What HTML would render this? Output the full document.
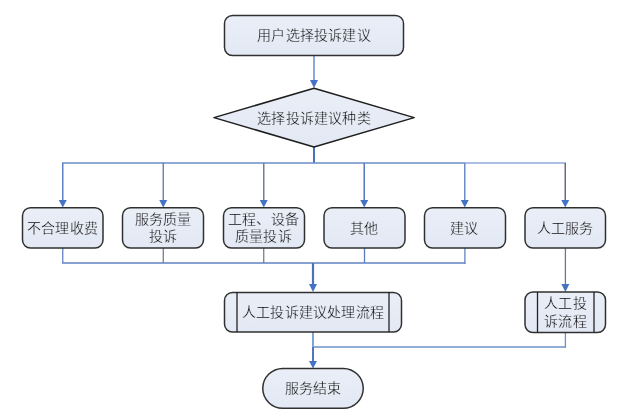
<!DOCTYPE html>
<html lang="zh-CN">
<head>
<meta charset="utf-8">
<style>
html,body{margin:0;padding:0;background:#fff;}
body{width:622px;height:415px;overflow:hidden;position:relative;}
svg{position:absolute;left:0;top:0;}
text{font-family:"Liberation Serif",serif;font-size:14px;letter-spacing:0.2px;fill:#000;stroke:#e6ebf5;stroke-width:0.3px;}
.wrap{position:absolute;left:0;top:0;width:622px;height:415px;will-change:transform;}
</style>
</head>
<body>
<div class="wrap">
<svg width="622" height="415" viewBox="0 0 622 415">
  <defs>
    <linearGradient id="g" x1="0" y1="0" x2="0" y2="1">
      <stop offset="0" stop-color="#e9eef7"/>
      <stop offset="1" stop-color="#e3e9f4"/>
    </linearGradient>
  </defs>

  <!-- connectors -->
  <g fill="none" stroke-linecap="butt">
    <line x1="314" y1="55" x2="314" y2="81" stroke="#88aadc" stroke-width="2"/>
    <line x1="314" y1="147" x2="314" y2="163" stroke="#4a74b8" stroke-width="2"/>
    <line x1="62" y1="163" x2="465" y2="163" stroke="#6a8cc6" stroke-width="1.7"/>
    <line x1="465" y1="163" x2="566" y2="163" stroke="#8eaad8" stroke-width="1.7"/>
    <line x1="62.75" y1="163" x2="62.75" y2="201" stroke="#5f82c2" stroke-width="1.5"/>
    <line x1="163.25" y1="163" x2="163.25" y2="201" stroke="#5a78b6" stroke-width="1.3"/>
    <line x1="263.75" y1="163" x2="263.75" y2="201" stroke="#737d98" stroke-width="1.5"/>
    <line x1="364.25" y1="163" x2="364.25" y2="201" stroke="#5577bb" stroke-width="1.5"/>
    <line x1="464.75" y1="163" x2="464.75" y2="201" stroke="#6a8ac8" stroke-width="1.5"/>
    <line x1="565.25" y1="163" x2="565.25" y2="201" stroke="#666c80" stroke-width="1.5"/>
    <line x1="62.75" y1="248" x2="62.75" y2="263" stroke="#6283c2" stroke-width="1.3"/>
    <line x1="163.25" y1="248" x2="163.25" y2="263" stroke="#6c7488" stroke-width="1.2"/>
    <line x1="263.75" y1="248" x2="263.75" y2="263" stroke="#6c7488" stroke-width="1.2"/>
    <line x1="364.5" y1="248" x2="364.5" y2="263" stroke="#5a7cc0" stroke-width="1.3"/>
    <line x1="464.9" y1="248" x2="464.9" y2="263.7" stroke="#6283c2" stroke-width="1.3"/>
    <line x1="62" y1="263" x2="465.5" y2="263" stroke="#5f82c2" stroke-width="1.5"/>
    <line x1="313" y1="263" x2="313" y2="285" stroke="#4a74b8" stroke-width="2.2"/>
    <line x1="565.4" y1="248" x2="565.4" y2="285" stroke="#6b7590" stroke-width="1.3"/>
    <line x1="565.4" y1="332" x2="565.4" y2="347.5" stroke="#6e90c8" stroke-width="1.3"/>
    <line x1="313" y1="347" x2="566" y2="347" stroke="#6e90c8" stroke-width="1.3"/>
    <line x1="313" y1="332" x2="313" y2="347" stroke="#7ea3d6" stroke-width="2"/>
    <line x1="313" y1="347" x2="313" y2="362" stroke="#4f78bc" stroke-width="2"/>
  </g>

  <!-- arrowheads -->
  <g fill="#4472c4">
    <polygon points="310,80 318,80 314,88"/>
    <polygon points="58.75,200 66.75,200 62.75,207.5"/>
    <polygon points="159.25,200 167.25,200 163.25,207.5"/>
    <polygon points="259.75,200 267.75,200 263.75,207.5"/>
    <polygon points="360.25,200 368.25,200 364.25,207.5"/>
    <polygon points="460.75,200 468.75,200 464.75,207.5"/>
    <polygon points="561.25,200 569.25,200 565.25,207.5"/>
    <polygon points="309,284 317,284 313,292"/>
    <polygon points="561.4,284 569.4,284 565.4,292"/>
    <polygon points="309,361 317,361 313,368.5"/>
  </g>

  <!-- shapes -->
  <g fill="url(#g)" stroke="#303030" stroke-width="1.5">
    <rect x="224.5" y="15.5" width="179" height="40" rx="8" ry="8"/>
    <polygon points="314,88.3 414.2,117.6 314,147 214,117.6" stroke-width="1.5" stroke="#1e1e1e" stroke-linejoin="round"/>
    <rect x="22.5" y="207.75" width="80.5" height="40.25" rx="8" ry="8"/>
    <rect x="122.5" y="207.75" width="81" height="40.25" rx="8" ry="8"/>
    <rect x="223.5" y="207.75" width="81" height="40.25" rx="8" ry="8"/>
    <rect x="324" y="207.75" width="81" height="40.25" rx="8" ry="8"/>
    <rect x="424.5" y="207.75" width="81" height="40.25" rx="8" ry="8"/>
    <rect x="525" y="207.75" width="80.5" height="40.25" rx="8" ry="8"/>
    <rect x="224.5" y="292.4" width="177" height="39.6" rx="8" ry="8"/>
    <rect x="525" y="292" width="80.5" height="40.5" rx="8" ry="8"/>
    <rect x="262.75" y="368.4" width="100.5" height="39.9" rx="20" ry="20"/>
  </g>
  <g stroke="#222" stroke-width="1.3">
    <line x1="237" y1="292" x2="237" y2="332"/>
    <line x1="389" y1="292" x2="389" y2="332"/>
    <line x1="537.5" y1="292" x2="537.5" y2="332.5"/>
    <line x1="594" y1="292" x2="594" y2="332.5"/>
  </g>

  <!-- text -->
  <g text-anchor="middle">
    <text x="314" y="40">用户选择投诉建议</text>
    <text x="314" y="122.5">选择投诉建议种类</text>
    <text x="62.5" y="233">不合理收费</text>
    <text x="163" y="224">服务质量</text>
    <text x="163" y="241">投诉</text>
    <text x="263.5" y="224">工程、设备</text>
    <text x="263.5" y="241">质量投诉</text>
    <text x="364" y="233">其他</text>
    <text x="464.5" y="233">建议</text>
    <text x="565" y="233">人工服务</text>
    <text x="313" y="317">人工投诉建议处理流程</text>
    <text x="565.5" y="307.5">人工投</text>
    <text x="565.5" y="325.5">诉流程</text>
    <text x="313.2" y="393">服务结束</text>
  </g>
</svg>
</div>
</body>
</html>
